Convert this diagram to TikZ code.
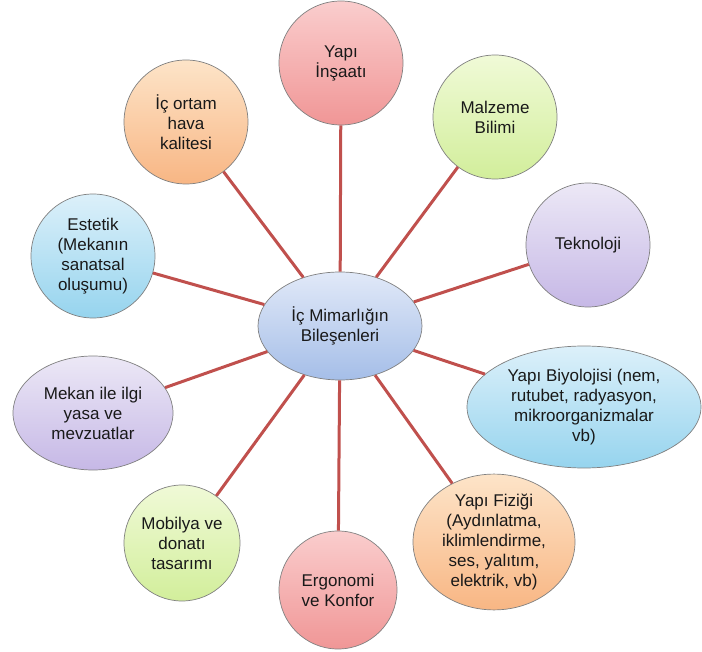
\documentclass[tikz,border=0pt]{standalone}
\usepackage{fontspec}
\setmainfont{Liberation Sans}
\usetikzlibrary{shapes.geometric}
\definecolor{linkc}{HTML}{C0504D}
\definecolor{edgec}{HTML}{808080}
\tikzset{
  bubble/.style={draw=edgec, line width=0.7pt, align=center, inner sep=0pt,
    font=\fontsize{17}{20}\selectfont, text=black!90},
  circ/.style={bubble, circle, minimum size=124pt},
  ell/.style={bubble, ellipse},
  pinkf/.style={top color={rgb,255:red,250;green,205;blue,205}, bottom color={rgb,255:red,240;green,150;blue,150}},
  greenf/.style={top color={rgb,255:red,240;green,250;blue,215}, bottom color={rgb,255:red,210;green,238;blue,155}},
  lavf/.style={top color={rgb,255:red,236;green,232;blue,246}, bottom color={rgb,255:red,198;green,184;blue,230}},
  bluef/.style={top color={rgb,255:red,220;green,240;blue,250}, bottom color={rgb,255:red,150;green,212;blue,238}},
  orangef/.style={top color={rgb,255:red,253;green,228;blue,200}, bottom color={rgb,255:red,248;green,182;blue,132}},
  centerf/.style={top color={rgb,255:red,225;green,233;blue,248}, bottom color={rgb,255:red,165;green,190;blue,232}},
  link/.style={draw=linkc, line width=3pt}
}
\begin{document}
\begin{tikzpicture}[x=1pt,y=-1pt]
\useasboundingbox (0,0) rectangle (702,652);
\node[ell, centerf, minimum width=164pt, minimum height=108pt] (c) at (340,326) {İç Mimarlığın\\Bileşenleri};
\node[circ, pinkf] (n1) at (341,63) {Yapı\\İnşaatı};
\node[circ, greenf] (n2) at (495,117) {Malzeme\\Bilimi};
\node[circ, lavf] (n3) at (588,245) {Teknoloji};
\node[ell, bluef, minimum width=234pt, minimum height=122pt] (n4) at (584,407) {Yapı Biyolojisi (nem,\\rutubet, radyasyon,\\mikroorganizmalar\\vb)};
\node[ell, orangef, minimum width=162pt, minimum height=130pt] (n5) at (494,542) {Yapı Fiziği\\(Aydınlatma,\\iklimlendirme,\\ses, yalıtım,\\elektrik, vb)};
\node[circ, pinkf, minimum size=118pt] (n6) at (338,590) {Ergonomi\\ve Konfor};
\node[circ, greenf, minimum size=116pt] (n7) at (182,543) {Mobilya ve\\donatı\\tasarımı};
\node[ell, lavf, minimum width=160pt, minimum height=114pt] (n8) at (93,413) {Mekan ile ilgi\\yasa ve\\mevzuatlar};
\node[circ, bluef] (n9) at (93,256) {Estetik\\(Mekanın\\sanatsal\\oluşumu)};
\node[circ, orangef] (n10) at (186,122) {İç ortam\\hava\\kalitesi};
\foreach \n in {n1,n2,n3,n4,n5,n6,n7,n8,n9,n10}
  \draw[link] (c) -- (\n);
\end{tikzpicture}
\end{document}
